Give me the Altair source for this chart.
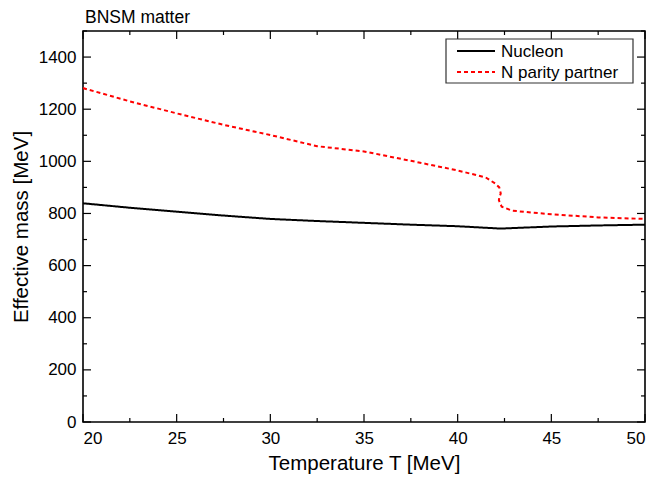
import altair as alt
import pandas as pd

# ---- data ----
series = ["Nucleon", "N parity partner"]
T_nucleon = [20, 22.5, 25, 27.5, 30, 32.5, 35, 37.5, 40, 42.3, 45, 47.5, 50]
M_nucleon = [839, 822, 807, 792, 779, 771, 764, 757, 751, 742, 750, 754, 757]
T_partner = [20, 22.5, 25, 27.5, 30, 32.5, 35, 37.5, 40, 41.5, 42.0, 42.22, 42.3, 42.22, 42.2, 42.35, 42.9, 44, 45, 47.5, 50]
M_partner = [1281, 1230, 1184, 1140, 1101, 1058, 1038, 1002, 965, 938, 915, 900, 877, 860, 851, 826, 811, 803, 797, 785, 779]
x_major = [20, 25, 30, 35, 40, 45, 50]
x_minor = [22.5, 27.5, 32.5, 37.5, 42.5, 47.5]
y_major = [0, 200, 400, 600, 800, 1000, 1200, 1400]
y_minor = [100, 300, 500, 700, 900, 1100, 1300, 1500]

rows = []
for i, (t, m) in enumerate(zip(T_nucleon, M_nucleon)):
    rows.append({"T": t, "m": m, "series": series[0], "i": i})
for i, (t, m) in enumerate(zip(T_partner, M_partner)):
    rows.append({"T": t, "m": m, "series": series[1], "i": i})
df = pd.DataFrame(rows)

W, H = 562, 391
FONT = "Liberation Sans"
xs = alt.Scale(domain=[20, 50], nice=False, zero=False)
ys = alt.Scale(domain=[0, 1500], nice=False)
colors = ["black", "red"]
dashes = [[1, 0], [4, 3]]

lines = alt.Chart(df).mark_line(strokeWidth=2, clip=True).encode(
    x=alt.X("T:Q", scale=xs, axis=alt.Axis(values=x_major, title="Temperature T [MeV]",
                                           ticks=False, domain=False, grid=False, format="d",
                                           labelPadding=8, titlePadding=7)),
    y=alt.Y("m:Q", scale=ys, axis=alt.Axis(values=y_major, title="Effective mass [MeV]",
                                           ticks=False, domain=False, grid=False, format="d",
                                           labelPadding=7, titlePadding=7)),
    color=alt.Color("series:N", scale=alt.Scale(domain=series, range=colors), legend=None),
    strokeDash=alt.StrokeDash("series:N", scale=alt.Scale(domain=series, range=dashes), legend=None),
    order=alt.Order("i:Q"),
)

dfx_major = pd.DataFrame({"v": x_major})
dfx_minor = pd.DataFrame({"v": x_minor})
dfy_major = pd.DataFrame({"v": y_major})
dfy_minor = pd.DataFrame({"v": y_minor})

def xticks(d, L):
    b = alt.Chart(d).mark_rule(color="black", strokeWidth=1.2).encode(
        x=alt.X("v:Q", scale=xs, axis=None), y=alt.value(H), y2=alt.value(H - L))
    t = alt.Chart(d).mark_rule(color="black", strokeWidth=1.2).encode(
        x=alt.X("v:Q", scale=xs, axis=None), y=alt.value(0), y2=alt.value(L))
    return b + t

def yticks(d, L):
    l = alt.Chart(d).mark_rule(color="black", strokeWidth=1.2).encode(
        y=alt.Y("v:Q", scale=ys, axis=None), x=alt.value(0), x2=alt.value(L))
    r = alt.Chart(d).mark_rule(color="black", strokeWidth=1.2).encode(
        y=alt.Y("v:Q", scale=ys, axis=None), x=alt.value(W), x2=alt.value(W - L))
    return l + r

# ---- manual legend ----
LX, LY, LW, LH = 363, 8, 187, 44
leg_df = pd.DataFrame({"s": series})
box = alt.Chart(leg_df.head(1)).mark_rect(fill="white", stroke="#333", strokeWidth=1.2).encode(
    x=alt.value(LX), x2=alt.value(LX + LW), y=alt.value(LY), y2=alt.value(LY + LH))
leg_layers = [box]
for k, s in enumerate(series):
    yy = LY + 12 + 21 * k
    d = pd.DataFrame({"s": [s]})
    leg_layers.append(alt.Chart(d).mark_rule(color=colors[k], strokeDash=dashes[k], strokeWidth=2).encode(
        x=alt.value(LX + 11), x2=alt.value(LX + 49), y=alt.value(yy)))
    leg_layers.append(alt.Chart(d).mark_text(align="left", baseline="middle", font=FONT,
                                             fontSize=17, color="black").encode(
        text="s:N", x=alt.value(LX + 55), y=alt.value(yy + 1)))

chart = alt.layer(
    lines,
    xticks(dfx_major, 8), xticks(dfx_minor, 4),
    yticks(dfy_major, 8), yticks(dfy_minor, 4),
    *leg_layers,
).resolve_axis(x="independent", y="independent").properties(
    width=W, height=H,
    title=alt.TitleParams("BNSM matter", anchor="start", frame="group", fontSize=17.5, font=FONT,
                          fontWeight="normal", color="black", offset=4, dx=2),
    autosize=alt.AutoSizeParams(type="none"),
    padding={"left": 75, "top": 23, "right": 12, "bottom": 56},
).configure_view(
    stroke="black", strokeWidth=1.6
).configure_axis(
    labelFont=FONT, labelFontSize=17, labelColor="black",
    titleFont=FONT, titleFontSize=20.5, titleColor="black", titleFontWeight="normal",
)

chart.save("out.html", embed_options={"renderer": "svg", "actions": False})
